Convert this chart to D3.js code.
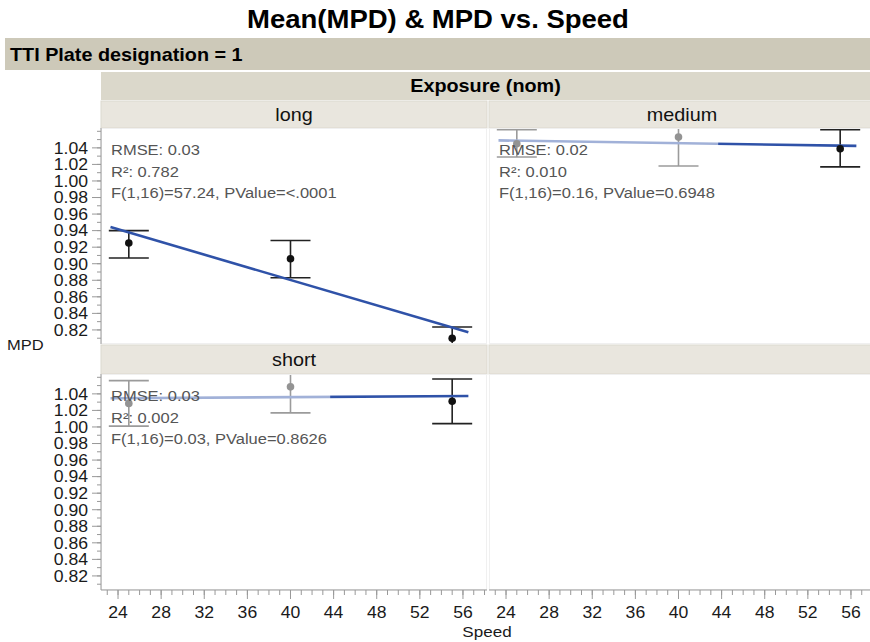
<!DOCTYPE html>
<html>
<head>
<meta charset="utf-8">
<script src="https://cdn.jsdelivr.net/npm/d3@7"></script>
<style>
  body { margin: 0; background: #fff; }
  svg { display: block; font-family: "Liberation Sans", Arial, Helvetica, sans-serif; }
</style>
</head>
<body>
<svg id="chart" width="870" height="642"></svg>
<script>
// ---- data ----
const speeds = [25, 40, 55];
const exposures = ["long", "medium", "short"];

const meanLong   = [0.925, 0.906, 0.810];
const upperLong  = [0.940, 0.928, 0.8235];
const lowerLong  = [0.907, 0.883, 0.7965];

const meanMedium  = [1.045, 1.053, 1.039];
const upperMedium = [1.062, 1.088, 1.062];
const lowerMedium = [1.029, 1.018, 1.017];

const meanShort  = [1.0285, 1.0485, 1.031];
const upperShort = [1.056, 1.080, 1.058];
const lowerShort = [1.001, 1.017, 1.004];

const statsLong   = ["RMSE: 0.03", "R\u00B2: 0.782", "F(1,16)=57.24, PValue=<.0001"];
const statsMedium = ["RMSE: 0.02", "R\u00B2: 0.010", "F(1,16)=0.16, PValue=0.6948"];
const statsShort  = ["RMSE: 0.03", "R\u00B2: 0.002", "F(1,16)=0.03, PValue=0.8626"];

const xTickLabels = [24, 28, 32, 36, 40, 44, 48, 52, 56];
const yTickLabels = [0.82, 0.84, 0.86, 0.88, 0.90, 0.92, 0.94, 0.96, 0.98, 1.00, 1.02, 1.04];
const xDomain = [22.42, 58.23];
const yDomain = [0.803, 1.064];
const fitRange = [23.3, 56.5];

const titleText = "Mean(MPD) & MPD vs. Speed";
const groupText = "TTI Plate designation = 1";
const overlayText = "Exposure (nom)";
const xTitle = "Speed";
const yTitle = "MPD";

const series = {
  long:   { mean: meanLong,   upper: upperLong,   lower: lowerLong,   stats: statsLong },
  medium: { mean: meanMedium, upper: upperMedium, lower: lowerMedium, stats: statsMedium },
  short:  { mean: meanShort,  upper: upperShort,  lower: lowerShort,  stats: statsShort }
};

// ---- layout ----
const SX = 1.1;               // horizontal text stretch
const colX = [101, 489];
const panelW = 386;
const headerY = [101, 345];
const headerH = [27, 29];
const plotY = [128, 374];
const plotH = 216;

const svg = d3.select("#chart");

function label(g, x, y, s, size, opts = {}) {
  return g.append("text")
    .attr("transform", `translate(${x},${y}) scale(${SX},1)`)
    .attr("font-size", size)
    .attr("font-weight", opts.bold ? "bold" : "normal")
    .attr("text-anchor", opts.anchor || "start")
    .attr("fill", opts.fill || "#1a1a1a")
    .text(s);
}

// title
label(svg, 438, 28, titleText, 25, { bold: true, anchor: "middle", fill: "#000" });

// grouping bars
svg.append("rect").attr("x", 5).attr("y", 38).attr("width", 865).attr("height", 32).attr("fill", "#cdc9b9");
label(svg, 10, 61, groupText, 18, { bold: true, fill: "#000" });

svg.append("rect").attr("x", colX[0]).attr("y", 72).attr("width", 870 - colX[0]).attr("height", 28).attr("fill", "#dbd8cb");
label(svg, (colX[0] + 870) / 2, 92, overlayText, 18, { bold: true, anchor: "middle", fill: "#000" });

const cells = [
  { row: 0, col: 0, exp: exposures[0] },
  { row: 0, col: 1, exp: exposures[1] },
  { row: 1, col: 0, exp: exposures[2] },
  { row: 1, col: 1, exp: null }
];

const defs = svg.append("defs");

cells.forEach((c, i) => {
  const x0 = colX[c.col];
  const py = plotY[c.row];
  const g = svg.append("g");

  // strip header
  g.append("rect").attr("x", x0).attr("y", headerY[c.row]).attr("width", panelW).attr("height", headerH[c.row])
    .attr("fill", "#e9e6de").attr("stroke", "#dcd9cf").attr("stroke-width", 1);
  if (c.exp) {
    label(g, x0 + panelW / 2, headerY[c.row] + headerH[c.row] / 2 + 6.5, c.exp, 18, { anchor: "middle", fill: "#111" });
  }

  // plot frame
  g.append("rect").attr("x", x0 + 0.5).attr("y", py + 0.5).attr("width", panelW - 1).attr("height", plotH - 1)
    .attr("fill", "#fff").attr("stroke", "#f0f0f0");

  const x = d3.scaleLinear().domain(xDomain).range([x0, x0 + panelW]);
  const y = d3.scaleLinear().domain(yDomain).range([py + plotH, py]);

  if (!c.exp) return;
  const s = series[c.exp];

  defs.append("clipPath").attr("id", "clip" + i)
    .append("rect").attr("x", x0 + 1).attr("y", py + 1).attr("width", panelW - 2).attr("height", plotH - 2);
  const m = g.append("g").attr("clip-path", `url(#clip${i})`);

  // error bars
  speeds.forEach((sp, k) => {
    const cx = x(sp);
    m.append("line").attr("x1", cx).attr("x2", cx).attr("y1", y(s.lower[k])).attr("y2", y(s.upper[k]))
      .attr("stroke", "#222").attr("stroke-width", 1.6);
    [s.lower[k], s.upper[k]].forEach(v => {
      m.append("line").attr("x1", cx - 20).attr("x2", cx + 20).attr("y1", y(v)).attr("y2", y(v))
        .attr("stroke", "#222").attr("stroke-width", 1.6);
    });
  });

  // least-squares fit through the means
  const mx = d3.mean(speeds), my = d3.mean(s.mean);
  const slope = d3.sum(speeds, (sp, k) => (sp - mx) * (s.mean[k] - my)) / d3.sum(speeds, sp => (sp - mx) ** 2);
  const fit = v => my + slope * (v - mx);
  m.append("line")
    .attr("x1", x(fitRange[0])).attr("y1", y(fit(fitRange[0])))
    .attr("x2", x(fitRange[1])).attr("y2", y(fit(fitRange[1])))
    .attr("stroke", "#2f52a8").attr("stroke-width", 2.6);

  // means
  m.selectAll("circle.mean").data(speeds).join("circle").attr("class", "mean")
    .attr("cx", d => x(d)).attr("cy", (d, k) => y(s.mean[k])).attr("r", 3.8).attr("fill", "#111");

  // fit statistics with a translucent backing box
  const box = g.append("rect").attr("fill", "#fff").attr("fill-opacity", 0.55);
  const tg = g.append("g");
  const offs = [27, 48.5, 70];
  s.stats.forEach((t, k) => label(tg, x0 + 10, py + offs[k], t, 15, { fill: "#555" }));
  const bb = tg.node().getBoundingClientRect();
  box.attr("x", x0 + 1).attr("y", py + 1).attr("width", bb.right - x0 + 2).attr("height", bb.bottom - py + 3);
});

// ---- axes ----
const axisColor = "#999";
[0, 1].forEach(row => {
  const py = plotY[row];
  const y = d3.scaleLinear().domain(yDomain).range([py + plotH, py]);
  const g = svg.append("g").attr("transform", `translate(${colX[0]},0)`);
  g.append("line").attr("x1", 0).attr("x2", 0).attr("y1", py).attr("y2", py + plotH).attr("stroke", axisColor);
  const minor = d3.range(81, 107).map(v => v / 100);
  g.selectAll("line.minor").data(minor).join("line").attr("class", "minor")
    .attr("x1", -4).attr("x2", 0).attr("y1", d => y(d)).attr("y2", d => y(d)).attr("stroke", axisColor);
  g.selectAll("line.major").data(yTickLabels).join("line").attr("class", "major")
    .attr("x1", -9).attr("x2", 0).attr("y1", d => y(d)).attr("y2", d => y(d)).attr("stroke", axisColor);
  yTickLabels.forEach(v => label(g, -13, y(v) + 5.8, d3.format(".2f")(v), 16, { anchor: "end", fill: "#1a1a1a" }));
});

[0, 1].forEach(col => {
  const x0 = colX[col];
  const x = d3.scaleLinear().domain(xDomain).range([x0, x0 + panelW]);
  const yb = plotY[1] + plotH;
  const g = svg.append("g");
  g.append("line").attr("x1", x0).attr("x2", Math.min(x0 + panelW, 870)).attr("y1", yb).attr("y2", yb).attr("stroke", axisColor);
  const minor = d3.range(23, 59);
  g.selectAll("line.minor").data(minor).join("line").attr("class", "minor")
    .attr("x1", d => x(d)).attr("x2", d => x(d)).attr("y1", yb).attr("y2", yb + 5).attr("stroke", axisColor);
  g.selectAll("line.major").data(xTickLabels).join("line").attr("class", "major")
    .attr("x1", d => x(d)).attr("x2", d => x(d)).attr("y1", yb).attr("y2", yb + 9).attr("stroke", axisColor);
  xTickLabels.forEach(v => label(g, x(v), yb + 28, String(v), 16, { anchor: "middle", fill: "#1a1a1a" }));
});

label(svg, 487, 637, xTitle, 15.5, { anchor: "middle", fill: "#1a1a1a" });
label(svg, 7, 350, yTitle, 15, { fill: "#1a1a1a" });
</script>
</body>
</html>
